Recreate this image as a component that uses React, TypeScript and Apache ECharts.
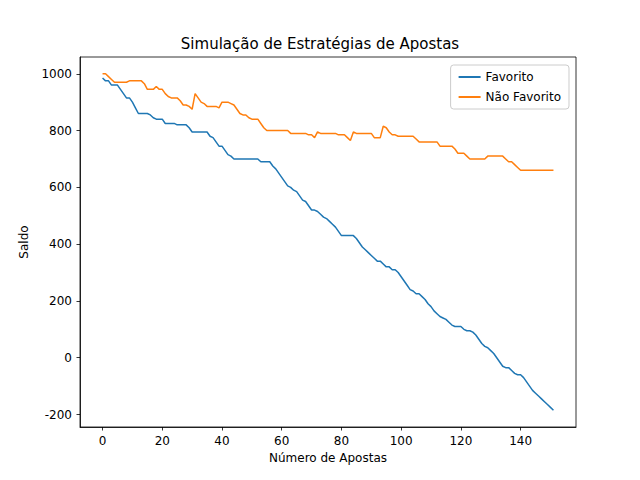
import { useEffect, useRef } from 'react';
import * as echarts from 'echarts';

const favorito = [
  985, 975, 975, 960, 960, 960, 945, 930, 915, 915, 900, 880, 860, 860, 860, 860, 855, 845, 840, 840,
  840, 825, 825, 825, 825, 820, 820, 820, 820, 810, 795, 795, 795, 795, 795, 795, 780, 775, 760, 745,
  745, 730, 715, 710, 700, 700, 700, 700, 700, 700, 700, 700, 700, 690, 690, 690, 690, 675, 665, 650,
  635, 620, 605, 600, 590, 585, 570, 555, 550, 535, 520, 520, 515, 505, 495, 490, 480, 470, 460, 445,
  430, 430, 430, 430, 430, 420, 405, 390, 380, 370, 360, 350, 340, 340, 330, 320, 320, 310, 310, 300,
  285, 270, 255, 240, 235, 225, 225, 215, 205, 190, 180, 165, 155, 145, 140, 135, 125, 115, 110, 110,
  110, 100, 95, 95, 90, 80, 65, 50, 40, 35, 25, 15, 0, -15, -30, -35, -35, -45, -55, -60,
  -60, -70, -85, -100, -115, -125, -135, -145, -155, -165, -175, -185,
];

const naoFavorito = [
  1000, 1000, 990, 980, 970, 970, 970, 970, 970, 975, 975, 975, 975, 975, 965, 945, 945, 945, 955, 945,
  945, 930, 920, 915, 915, 915, 905, 890, 890, 885, 875, 930, 915, 900, 895, 885, 885, 885, 885, 880,
  900, 900, 900, 895, 890, 875, 860, 855, 855, 845, 840, 840, 840, 825, 810, 800, 800, 800, 800, 800,
  800, 800, 800, 790, 790, 790, 790, 790, 790, 785, 785, 775, 795, 790, 790, 790, 790, 790, 790, 785,
  785, 785, 775, 765, 795, 790, 790, 790, 790, 790, 790, 775, 775, 775, 815, 810, 795, 785, 785, 780,
  780, 780, 780, 780, 780, 770, 760, 760, 760, 760, 760, 760, 760, 745, 745, 745, 745, 745, 735, 720,
  720, 720, 710, 700, 700, 700, 700, 700, 700, 710, 710, 710, 710, 710, 710, 700, 690, 690, 680, 670,
  660, 660, 660, 660, 660, 660, 660, 660, 660, 660, 660, 660,
];

const xTicks = [0, 20, 40, 60, 80, 100, 120, 140];
const yTicks = [-200, 0, 200, 400, 600, 800, 1000];

export default function App() {
  const container = useRef<HTMLDivElement>(null);

  useEffect(() => {
    if (!container.current) return;
    const chart = echarts.init(container.current, null, { renderer: 'svg' });
    const font = 'DejaVu Sans';
    const axisCommon = {
      axisLine: { show: true, onZero: false, lineStyle: { color: '#000', width: 0.8 } },
      axisTick: { show: true, length: 3.5, lineStyle: { color: '#000', width: 0.8 } },
      axisLabel: { color: '#000', fontFamily: font, fontSize: 12, formatter: (v: number) => String(v) },
      splitLine: { show: false },
      nameLocation: 'middle' as const,
      nameTextStyle: { color: '#000', fontFamily: font, fontSize: 12 },
    };
    chart.setOption({
      animation: false,
      title: {
        text: 'Simulação de Estratégias de Apostas',
        left: 'center',
        top: 31,
        textStyle: { color: '#000', fontFamily: font, fontSize: 15, fontWeight: 'normal' },
      },
      grid: { left: 80, right: 64, top: 57, bottom: 53, show: true, borderColor: '#000', borderWidth: 0.8 },
      legend: {
        orient: 'vertical',
        right: 71,
        top: 65,
        itemWidth: 22,
        itemHeight: 2,
        itemGap: 8,
        padding: [6, 8, 6, 8],
        borderColor: '#ccc',
        borderWidth: 1,
        borderRadius: 3,
        backgroundColor: '#fff',
        align: 'left',
        icon: 'rect',
        textStyle: { color: '#000', fontFamily: font, fontSize: 12 },
        data: ['Favorito', 'Não Favorito'],
      },
      xAxis: {
        ...axisCommon,
        type: 'value',
        min: -7.55,
        max: 158.55,
        name: 'Número de Apostas',
        nameGap: 24,
        axisTick: { ...axisCommon.axisTick, customValues: xTicks },
        axisLabel: { ...axisCommon.axisLabel, customValues: xTicks },
      },
      yAxis: {
        ...axisCommon,
        type: 'value',
        min: -244,
        max: 1059,
        name: 'Saldo',
        nameGap: 50,
        axisTick: { ...axisCommon.axisTick, customValues: yTicks },
        axisLabel: { ...axisCommon.axisLabel, customValues: yTicks },
      },
      series: [
        {
          name: 'Favorito',
          type: 'line',
          data: favorito.map((v, i) => [i, v]),
          showSymbol: false,
          lineStyle: { color: '#1f77b4', width: 1.5 },
          itemStyle: { color: '#1f77b4' },
        },
        {
          name: 'Não Favorito',
          type: 'line',
          data: naoFavorito.map((v, i) => [i, v]),
          showSymbol: false,
          lineStyle: { color: '#ff7f0e', width: 1.5 },
          itemStyle: { color: '#ff7f0e' },
        },
      ],
    });
    return () => chart.dispose();
  }, []);

  return <div ref={container} style={{ width: 640, height: 480, margin: -8 }} />;
}
